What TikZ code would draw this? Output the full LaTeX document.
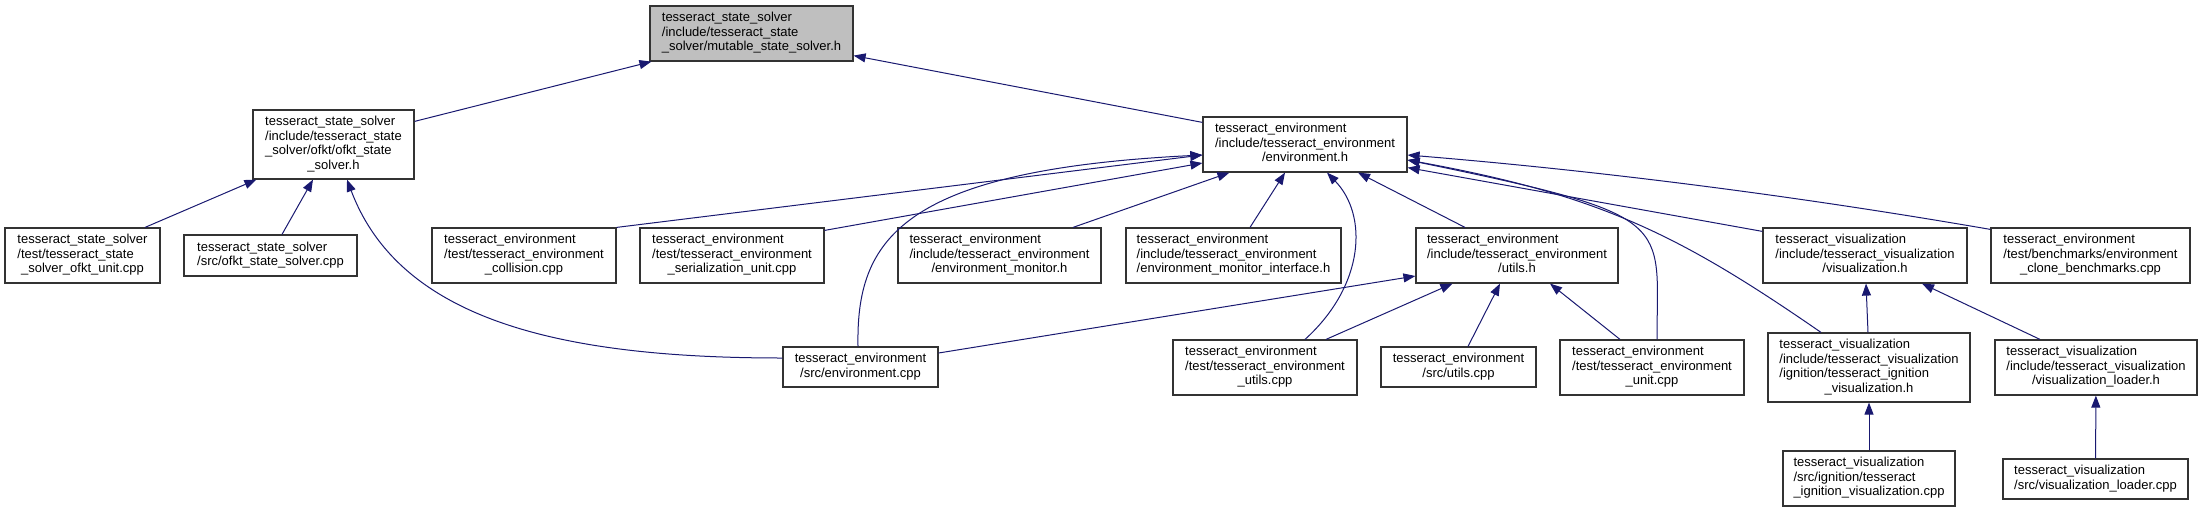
\documentclass[tikz,border=0pt]{standalone}
\usepackage{fontspec}
\setmainfont{Liberation Sans}
\usepackage{tikz}
\usepackage{xcolor}
\usetikzlibrary{arrows.meta}
\definecolor{edgeblue}{HTML}{191970}
\definecolor{rootgray}{HTML}{BFBFBF}
\newcommand{\flabel}[1]{\begin{tabular}{@{}l@{}}#1\end{tabular}}
\newcommand{\lastl}[1]{\multicolumn{1}{@{}c@{}}{#1}}

\begin{document}
\begin{tikzpicture}[x=1pt, y=-1pt,
  filenode/.style={draw=black!80, line width=1.2pt, fill=white, inner sep=0pt,
    font=\fontsize{13}{14.5}\selectfont},
  incl/.style={draw=edgeblue, line width=1pt, -{Triangle[length=12pt, width=9pt]}}
]
\useasboundingbox (0,0) rectangle (2203,512);
% include graph boxes
\node[filenode, fill=rootgray, minimum width=203, minimum height=55] (root) at (751.5,33.5)
  {\flabel{tesseract\_state\_solver\\/include/tesseract\_state\\\lastl{\_solver/mutable\_state\_solver.h}}};
\node[filenode, minimum width=161, minimum height=69] (ofkt) at (333.5,144.5)
  {\flabel{tesseract\_state\_solver\\/include/tesseract\_state\\\_solver/ofkt/ofkt\_state\\\lastl{\_solver.h}}};
\node[filenode, minimum width=204, minimum height=55] (envh) at (1305,144.5)
  {\flabel{tesseract\_environment\\/include/tesseract\_environment\\\lastl{/environment.h}}};
\node[filenode, minimum width=155, minimum height=55] (ssunit) at (82.5,255.5)
  {\flabel{tesseract\_state\_solver\\/test/tesseract\_state\\\lastl{\_solver\_ofkt\_unit.cpp}}};
\node[filenode, minimum width=173, minimum height=41] (sscpp) at (270.5,255.5)
  {\flabel{tesseract\_state\_solver\\\lastl{/src/ofkt\_state\_solver.cpp}}};
\node[filenode, minimum width=184, minimum height=55] (coll) at (524,255.5)
  {\flabel{tesseract\_environment\\/test/tesseract\_environment\\\lastl{\_collision.cpp}}};
\node[filenode, minimum width=184, minimum height=55] (ser) at (732,255.5)
  {\flabel{tesseract\_environment\\/test/tesseract\_environment\\\lastl{\_serialization\_unit.cpp}}};
\node[filenode, minimum width=203, minimum height=55] (monitor) at (999.5,255.5)
  {\flabel{tesseract\_environment\\/include/tesseract\_environment\\\lastl{/environment\_monitor.h}}};
\node[filenode, minimum width=215, minimum height=55] (iface) at (1233.5,255.5)
  {\flabel{tesseract\_environment\\/include/tesseract\_environment\\\lastl{/environment\_monitor\_interface.h}}};
\node[filenode, minimum width=202, minimum height=55] (utilsh) at (1517,255.5)
  {\flabel{tesseract\_environment\\/include/tesseract\_environment\\\lastl{/utils.h}}};
\node[filenode, minimum width=204, minimum height=55] (vish) at (1865,255.5)
  {\flabel{tesseract\_visualization\\/include/tesseract\_visualization\\\lastl{/visualization.h}}};
\node[filenode, minimum width=199, minimum height=55] (clone) at (2090.5,255.5)
  {\flabel{tesseract\_environment\\/test/benchmarks/environment\\\lastl{\_clone\_benchmarks.cpp}}};
\node[filenode, minimum width=155, minimum height=40] (envcpp) at (860.5,367)
  {\flabel{tesseract\_environment\\\lastl{/src/environment.cpp}}};
\node[filenode, minimum width=184, minimum height=55] (testutils) at (1265,367.5)
  {\flabel{tesseract\_environment\\/test/tesseract\_environment\\\lastl{\_utils.cpp}}};
\node[filenode, minimum width=155, minimum height=40] (utilscpp) at (1458.5,367)
  {\flabel{tesseract\_environment\\\lastl{/src/utils.cpp}}};
\node[filenode, minimum width=184, minimum height=55] (envunit) at (1652,367.5)
  {\flabel{tesseract\_environment\\/test/tesseract\_environment\\\lastl{\_unit.cpp}}};
\node[filenode, minimum width=202, minimum height=69] (ignh) at (1869,367.5)
  {\flabel{tesseract\_visualization\\/include/tesseract\_visualization\\/ignition/tesseract\_ignition\\\lastl{\_visualization.h}}};
\node[filenode, minimum width=202, minimum height=55] (loaderh) at (2096,367.5)
  {\flabel{tesseract\_visualization\\/include/tesseract\_visualization\\\lastl{/visualization\_loader.h}}};
\node[filenode, minimum width=172, minimum height=55] (igncpp) at (1869,478.5)
  {\flabel{tesseract\_visualization\\/src/ignition/tesseract\\\lastl{\_ignition\_visualization.cpp}}};
\node[filenode, minimum width=185, minimum height=40] (loadercpp) at (2095.5,479)
  {\flabel{tesseract\_visualization\\\lastl{/src/visualization\_loader.cpp}}};

% includes, arrow at the included file
\draw[incl] ([yshift=-12]ofkt.north east) -- ([xshift=2]root.south west);
\draw[incl] ([yshift=-6]envh.north west) -- ([yshift=6]root.south east);
\draw[incl] ([xshift=62.5]ssunit.north) -- ([xshift=4]ofkt.south west);
\draw[incl] ([xshift=11.5]sscpp.north) -- ([xshift=-20.5]ofkt.south);
\draw[incl] ([yshift=9]envcpp.west) .. controls (560,358) and (400,320) .. ([xshift=13.5]ofkt.south);
\draw[incl] (coll.north east) -- ([yshift=-10.5]envh.west);
\draw[incl] ([yshift=-3]ser.north east) -- ([yshift=-18.5]envh.west);
\draw[incl] ([xshift=-2.5]envcpp.north) .. controls (856,240) and (900,170) .. ([yshift=-10.5]envh.west);
\draw[incl] ([xshift=73.5]monitor.north) -- ([xshift=27]envh.south west);
\draw[incl] ([xshift=16.5]iface.north) -- ([xshift=-20]envh.south);
\draw[incl] ([xshift=40]testutils.north) .. controls (1365,285) and (1368,215) .. ([xshift=22]envh.south);
\draw[incl] ([xshift=-52]utilsh.north) -- ([xshift=53]envh.south);
\draw[incl] ([yshift=-4]vish.north west) -- ([yshift=5]envh.south east);
\draw[incl] ([yshift=-2]clone.north west) .. controls (1797,196) and (1602,171) .. ([yshift=-10.5]envh.east);
\draw[incl] ([xshift=5]envunit.north) .. controls (1657,220) and (1679,216) .. ([yshift=-15.5]envh.east);
\draw[incl] ([xshift=-48]ignh.north) .. controls (1680,235) and (1600,195) .. ([yshift=-15.5]envh.east);
\draw[incl] ([yshift=14]envcpp.east) -- ([yshift=-20.5]utilsh.west);
\draw[incl] ([xshift=61]testutils.north) -- ([xshift=37]utilsh.south west);
\draw[incl] ([xshift=9.5]utilscpp.north) -- ([xshift=-17]utilsh.south);
\draw[incl] ([xshift=-32]envunit.north) -- ([xshift=33]utilsh.south);
\draw[incl] ([xshift=-1]ignh.north) -- ([xshift=1]vish.south);
\draw[incl] ([xshift=-56]loaderh.north) -- ([xshift=57]vish.south);
\draw[incl] (igncpp) -- (ignh);
\draw[incl] (loadercpp) -- (loaderh);
\end{tikzpicture}
\end{document}
